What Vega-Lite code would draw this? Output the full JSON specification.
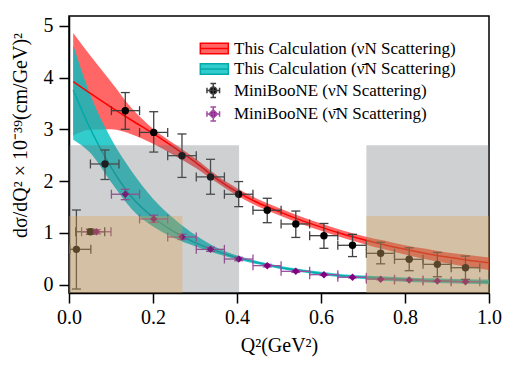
{
  "$schema": "https://vega.github.io/schema/vega-lite/v6.json",
  "width": 420,
  "height": 277,
  "autosize": {"type": "none"},
  "padding": {"left": 69, "top": 16, "right": 29, "bottom": 78},
  "background": "white",
  "datasets": {
    "curves": [
      {"s":"nu","x":0.01,"y":3.92,"lo":2.88,"hi":4.86},
      {"s":"nu","x":0.05,"y":3.70,"lo":2.99,"hi":4.43},
      {"s":"nu","x":0.1,"y":3.43,"lo":3.0,"hi":3.92},
      {"s":"nu","x":0.15,"y":3.17,"lo":2.9,"hi":3.40},
      {"s":"nu","x":0.2,"y":2.92,"lo":2.72,"hi":3.01},
      {"s":"nu","x":0.25,"y":2.65,"lo":2.5,"hi":2.72},
      {"s":"nu","x":0.3,"y":2.37,"lo":2.26,"hi":2.44},
      {"s":"nu","x":0.35,"y":2.05,"lo":1.98,"hi":2.12},
      {"s":"nu","x":0.4,"y":1.79,"lo":1.72,"hi":1.86},
      {"s":"nu","x":0.45,"y":1.58,"lo":1.51,"hi":1.65},
      {"s":"nu","x":0.5,"y":1.41,"lo":1.34,"hi":1.48},
      {"s":"nu","x":0.55,"y":1.25,"lo":1.18,"hi":1.32},
      {"s":"nu","x":0.6,"y":1.11,"lo":1.04,"hi":1.18},
      {"s":"nu","x":0.65,"y":0.98,"lo":0.91,"hi":1.05},
      {"s":"nu","x":0.7,"y":0.87,"lo":0.79,"hi":0.94},
      {"s":"nu","x":0.75,"y":0.77,"lo":0.68,"hi":0.85},
      {"s":"nu","x":0.8,"y":0.68,"lo":0.58,"hi":0.76},
      {"s":"nu","x":0.85,"y":0.60,"lo":0.49,"hi":0.69},
      {"s":"nu","x":0.9,"y":0.53,"lo":0.41,"hi":0.62},
      {"s":"nu","x":0.95,"y":0.47,"lo":0.34,"hi":0.57},
      {"s":"nu","x":1.0,"y":0.42,"lo":0.28,"hi":0.52},
      {"s":"nb","x":0.01,"y":3.76,"lo":2.80,"hi":4.63},
      {"s":"nb","x":0.05,"y":3.02,"lo":2.55,"hi":3.68},
      {"s":"nb","x":0.1,"y":2.27,"lo":1.98,"hi":2.82},
      {"s":"nb","x":0.15,"y":1.68,"lo":1.45,"hi":2.18},
      {"s":"nb","x":0.2,"y":1.30,"lo":1.12,"hi":1.66},
      {"s":"nb","x":0.25,"y":1.02,"lo":0.90,"hi":1.27},
      {"s":"nb","x":0.3,"y":0.81,"lo":0.74,"hi":0.96},
      {"s":"nb","x":0.35,"y":0.65,"lo":0.60,"hi":0.72},
      {"s":"nb","x":0.4,"y":0.52,"lo":0.485,"hi":0.56},
      {"s":"nb","x":0.45,"y":0.42,"lo":0.39,"hi":0.45},
      {"s":"nb","x":0.5,"y":0.335,"lo":0.305,"hi":0.365},
      {"s":"nb","x":0.55,"y":0.27,"lo":0.24,"hi":0.30},
      {"s":"nb","x":0.6,"y":0.215,"lo":0.185,"hi":0.245},
      {"s":"nb","x":0.65,"y":0.17,"lo":0.14,"hi":0.20},
      {"s":"nb","x":0.7,"y":0.14,"lo":0.105,"hi":0.175},
      {"s":"nb","x":0.75,"y":0.115,"lo":0.075,"hi":0.155},
      {"s":"nb","x":0.8,"y":0.095,"lo":0.055,"hi":0.135},
      {"s":"nb","x":0.85,"y":0.08,"lo":0.04,"hi":0.12},
      {"s":"nb","x":0.9,"y":0.067,"lo":0.025,"hi":0.11},
      {"s":"nb","x":0.95,"y":0.057,"lo":0.015,"hi":0.10},
      {"s":"nb","x":1.0,"y":0.05,"lo":0.005,"hi":0.095}
    ],
    "obs": [
      {"s":"MiniBooNE (νN Scattering)","x":0.0176,"y":0.68,"xl":0.002,"xh":0.052,"yl":-0.087,"yh":1.44},
      {"s":"MiniBooNE (νN Scattering)","x":0.051,"y":1.02,"xl":0.016,"xh":0.085,"yl":0.97,"yh":1.07},
      {"s":"MiniBooNE (νN Scattering)","x":0.0857,"y":2.33,"xl":0.051,"xh":0.119,"yl":2.03,"yh":2.6},
      {"s":"MiniBooNE (νN Scattering)","x":0.134,"y":3.36,"xl":0.101,"xh":0.168,"yl":3.0,"yh":3.71},
      {"s":"MiniBooNE (νN Scattering)","x":0.2017,"y":2.94,"xl":0.168,"xh":0.235,"yl":2.56,"yh":3.34},
      {"s":"MiniBooNE (νN Scattering)","x":0.269,"y":2.49,"xl":0.235,"xh":0.303,"yl":2.07,"yh":2.91},
      {"s":"MiniBooNE (νN Scattering)","x":0.337,"y":2.08,"xl":0.303,"xh":0.37,"yl":1.745,"yh":2.42},
      {"s":"MiniBooNE (νN Scattering)","x":0.404,"y":1.745,"xl":0.37,"xh":0.438,"yl":1.505,"yh":1.99},
      {"s":"MiniBooNE (νN Scattering)","x":0.472,"y":1.435,"xl":0.438,"xh":0.505,"yl":1.195,"yh":1.667},
      {"s":"MiniBooNE (νN Scattering)","x":0.54,"y":1.17,"xl":0.505,"xh":0.573,"yl":0.91,"yh":1.42},
      {"s":"MiniBooNE (νN Scattering)","x":0.607,"y":0.944,"xl":0.573,"xh":0.64,"yl":0.70,"yh":1.18},
      {"s":"MiniBooNE (νN Scattering)","x":0.675,"y":0.758,"xl":0.64,"xh":0.708,"yl":0.54,"yh":0.97},
      {"s":"MiniBooNE (νN Scattering)","x":0.742,"y":0.603,"xl":0.708,"xh":0.775,"yl":0.40,"yh":0.816},
      {"s":"MiniBooNE (νN Scattering)","x":0.81,"y":0.487,"xl":0.775,"xh":0.843,"yl":0.267,"yh":0.71},
      {"s":"MiniBooNE (νN Scattering)","x":0.877,"y":0.39,"xl":0.843,"xh":0.91,"yl":0.15,"yh":0.62},
      {"s":"MiniBooNE (νN Scattering)","x":0.944,"y":0.325,"xl":0.91,"xh":0.978,"yl":0.10,"yh":0.55},
      {"s":"MiniBooNE (ν̄N Scattering)","x":0.065,"y":1.02,"xl":0.03,"xh":0.1,"yl":0.98,"yh":1.06},
      {"s":"MiniBooNE (ν̄N Scattering)","x":0.134,"y":1.745,"xl":0.101,"xh":0.168,"yl":1.64,"yh":1.84},
      {"s":"MiniBooNE (ν̄N Scattering)","x":0.2017,"y":1.267,"xl":0.168,"xh":0.235,"yl":1.2,"yh":1.34},
      {"s":"MiniBooNE (ν̄N Scattering)","x":0.269,"y":0.919,"xl":0.235,"xh":0.303,"yl":0.87,"yh":0.97},
      {"s":"MiniBooNE (ν̄N Scattering)","x":0.337,"y":0.68,"xl":0.303,"xh":0.37,"yl":0.64,"yh":0.72},
      {"s":"MiniBooNE (ν̄N Scattering)","x":0.404,"y":0.493,"xl":0.37,"xh":0.438,"yl":0.46,"yh":0.525},
      {"s":"MiniBooNE (ν̄N Scattering)","x":0.472,"y":0.364,"xl":0.438,"xh":0.505,"yl":0.34,"yh":0.39},
      {"s":"MiniBooNE (ν̄N Scattering)","x":0.54,"y":0.255,"xl":0.505,"xh":0.573,"yl":0.235,"yh":0.275},
      {"s":"MiniBooNE (ν̄N Scattering)","x":0.607,"y":0.19,"xl":0.573,"xh":0.64,"yl":0.175,"yh":0.205},
      {"s":"MiniBooNE (ν̄N Scattering)","x":0.675,"y":0.14,"xl":0.64,"xh":0.708,"yl":0.128,"yh":0.152},
      {"s":"MiniBooNE (ν̄N Scattering)","x":0.742,"y":0.103,"xl":0.708,"xh":0.775,"yl":0.093,"yh":0.113},
      {"s":"MiniBooNE (ν̄N Scattering)","x":0.81,"y":0.087,"xl":0.775,"xh":0.843,"yl":0.078,"yh":0.096},
      {"s":"MiniBooNE (ν̄N Scattering)","x":0.877,"y":0.068,"xl":0.843,"xh":0.91,"yl":0.06,"yh":0.076},
      {"s":"MiniBooNE (ν̄N Scattering)","x":0.944,"y":0.054,"xl":0.91,"xh":0.978,"yl":0.047,"yh":0.061}
    ],
    "regions": [
      {"k":"gray","x":0,"x2":0.405,"y":-0.5,"y2":2.69},
      {"k":"gray","x":0.708,"x2":1.0,"y":-0.5,"y2":2.69},
      {"k":"tan","x":0,"x2":0.27,"y":-0.5,"y2":1.325},
      {"k":"tan","x":0.708,"x2":1.0,"y":-0.5,"y2":1.325}
    ]
  },
  "layer": [
    {
      "data": {"name": "curves"},
      "transform": [{"filter": "datum.s == 'nu'"}],
      "mark": {"type": "area", "color": "#ff0000", "opacity": 0.6, "interpolate": "monotone", "clip": true},
      "encoding": {
        "x": {"field": "x", "type": "quantitative", "scale": {"domain": [0, 1], "nice": false, "zero": false},
              "axis": {"values": [0, 0.2, 0.4, 0.6, 0.8, 1.0], "format": ".1f", "title": "Q²(GeV²)", "titleY": 52, "titleBaseline": "middle", "labelPadding": 4}},
        "y": {"field": "lo", "type": "quantitative", "scale": {"domain": [-0.164, 5.19], "nice": false, "zero": false},
              "axis": {"values": [0, 1, 2, 3, 4, 5], "format": "d", "title": "dσ/dQ² × 10⁻³⁹(cm/GeV)²", "titleX": -49, "titleY": 119, "titleBaseline": "middle", "titleAlign": "center", "labelPadding": 6}},
        "y2": {"field": "hi"}
      }
    },
    {
      "data": {"name": "curves"},
      "transform": [{"filter": "datum.s == 'nb'"}],
      "mark": {"type": "area", "color": "#00bfbf", "opacity": 0.8, "interpolate": "monotone", "clip": true},
      "encoding": {
        "x": {"field": "x", "type": "quantitative", "scale": {"domain": [0, 1], "nice": false, "zero": false}},
        "y": {"field": "lo", "type": "quantitative", "scale": {"domain": [-0.164, 5.19], "nice": false, "zero": false}},
        "y2": {"field": "hi"}
      }
    },
    {
      "data": {"name": "curves"},
      "transform": [{"filter": "datum.s == 'nu'"}],
      "mark": {"type": "line", "color": "#ff0000", "strokeWidth": 1.5, "interpolate": "monotone", "clip": true},
      "encoding": {
        "x": {"field": "x", "type": "quantitative", "scale": {"domain": [0, 1], "nice": false, "zero": false}},
        "y": {"field": "y", "type": "quantitative", "scale": {"domain": [-0.164, 5.19], "nice": false, "zero": false}}
      }
    },
    {
      "data": {"name": "curves"},
      "transform": [{"filter": "datum.s == 'nb'"}],
      "mark": {"type": "line", "color": "#00aaaa", "strokeWidth": 1.5, "interpolate": "monotone", "clip": true},
      "encoding": {
        "x": {"field": "x", "type": "quantitative", "scale": {"domain": [0, 1], "nice": false, "zero": false}},
        "y": {"field": "y", "type": "quantitative", "scale": {"domain": [-0.164, 5.19], "nice": false, "zero": false}}
      }
    },
    {
      "data": {"name": "obs"},
      "mark": {"type": "rule", "strokeWidth": 1.3, "clip": true},
      "encoding": {
        "x": {"field": "xl", "type": "quantitative", "scale": {"domain": [0, 1], "nice": false, "zero": false}},
        "x2": {"field": "xh"},
        "y": {"field": "y", "type": "quantitative", "scale": {"domain": [-0.164, 5.19], "nice": false, "zero": false}},
        "stroke": {"field": "s", "type": "nominal", "legend": null,
                   "scale": {"domain": ["MiniBooNE (νN Scattering)", "MiniBooNE (ν̄N Scattering)"], "range": ["#404040", "#a04ca0"]}}
      }
    },
    {
      "data": {"name": "obs"},
      "mark": {"type": "rule", "strokeWidth": 1.3, "clip": true},
      "encoding": {
        "x": {"field": "x", "type": "quantitative", "scale": {"domain": [0, 1], "nice": false, "zero": false}},
        "y": {"field": "yl", "type": "quantitative", "scale": {"domain": [-0.164, 5.19], "nice": false, "zero": false}},
        "y2": {"field": "yh"},
        "stroke": {"field": "s", "type": "nominal", "legend": null}
      }
    },
    {
      "data": {"name": "obs"},
      "mark": {"type": "tick", "orient": "horizontal", "size": 9, "thickness": 1.3, "opacity": 1, "clip": true},
      "encoding": {
        "x": {"field": "x", "type": "quantitative", "scale": {"domain": [0, 1], "nice": false, "zero": false}},
        "y": {"field": "yl", "type": "quantitative", "scale": {"domain": [-0.164, 5.19], "nice": false, "zero": false}},
        "color": {"field": "s", "type": "nominal", "legend": null,
                  "scale": {"domain": ["MiniBooNE (νN Scattering)", "MiniBooNE (ν̄N Scattering)"], "range": ["#404040", "#a04ca0"]}}
      }
    },
    {
      "data": {"name": "obs"},
      "mark": {"type": "tick", "orient": "horizontal", "size": 9, "thickness": 1.3, "opacity": 1, "clip": true},
      "encoding": {
        "x": {"field": "x", "type": "quantitative", "scale": {"domain": [0, 1], "nice": false, "zero": false}},
        "y": {"field": "yh", "type": "quantitative", "scale": {"domain": [-0.164, 5.19], "nice": false, "zero": false}},
        "color": {"field": "s", "type": "nominal", "legend": null}
      }
    },
    {
      "data": {"name": "obs"},
      "mark": {"type": "tick", "orient": "vertical", "size": 9, "thickness": 1.3, "opacity": 1, "clip": true},
      "encoding": {
        "x": {"field": "xl", "type": "quantitative", "scale": {"domain": [0, 1], "nice": false, "zero": false}},
        "y": {"field": "y", "type": "quantitative", "scale": {"domain": [-0.164, 5.19], "nice": false, "zero": false}},
        "color": {"field": "s", "type": "nominal", "legend": null}
      }
    },
    {
      "data": {"name": "obs"},
      "mark": {"type": "tick", "orient": "vertical", "size": 9, "thickness": 1.3, "opacity": 1, "clip": true},
      "encoding": {
        "x": {"field": "xh", "type": "quantitative", "scale": {"domain": [0, 1], "nice": false, "zero": false}},
        "y": {"field": "y", "type": "quantitative", "scale": {"domain": [-0.164, 5.19], "nice": false, "zero": false}},
        "color": {"field": "s", "type": "nominal", "legend": null}
      }
    },
    {
      "data": {"name": "obs"},
      "mark": {"type": "point", "filled": true, "opacity": 1, "size": 55, "clip": true},
      "encoding": {
        "x": {"field": "x", "type": "quantitative", "scale": {"domain": [0, 1], "nice": false, "zero": false}},
        "y": {"field": "y", "type": "quantitative", "scale": {"domain": [-0.164, 5.19], "nice": false, "zero": false}},
        "shape": {"field": "s", "type": "nominal", "legend": null,
                  "scale": {"domain": ["MiniBooNE (νN Scattering)", "MiniBooNE (ν̄N Scattering)"], "range": ["circle", "diamond"]}},
        "fill": {"field": "s", "type": "nominal",
                 "scale": {"domain": ["This Calculation (νN Scattering)", "This Calculation (ν̄N Scattering)", "MiniBooNE (νN Scattering)", "MiniBooNE (ν̄N Scattering)"], "range": ["#ff6666", "#33cccc", "#000000", "#800080"]},
                 "legend": {
                   "orient": "none", "legendX": 141, "legendY": 24, "title": null, "padding": 0,
                   "symbolSize": 196, "symbolStrokeWidth": 1.5, "symbolOpacity": 1,
                   "labelFont": "Liberation Serif", "labelFontSize": 17, "labelColor": "black", "labelOffset": 7, "labelLimit": 400,
                   "rowPadding": 2.5,
                   "encode": {
                     "symbols": {
                       "update": {
                         "shape": {"signal": "indexof(datum.value,'This')==0 ? 'M-2.6,-0.75H1.4V0.75H-2.6ZM-2.6,0H1.4' : (indexof(datum.value,'̄')>=0 ? 'M-1.65,0H0.15M-1.65,-0.4V0.4M0.15,-0.4V0.4M-0.75,-1V1M-1.15,-1H-0.35M-1.15,1H-0.35M-0.75,-0.6L-0.15,0L-0.75,0.6L-1.35,0Z' : 'M-1.65,0H0.15M-1.65,-0.4V0.4M0.15,-0.4V0.4M-0.75,-1V1M-1.15,-1H-0.35M-1.15,1H-0.35M-0.25,0A0.5,0.5 0 1,0 -1.25,0A0.5,0.5 0 1,0 -0.25,0Z')"},
                         "stroke": {"signal": "indexof(datum.value,'This')==0 ? (indexof(datum.value,'̄')>=0 ? '#00aaaa' : '#ff0000') : (indexof(datum.value,'̄')>=0 ? '#a04ca0' : '#404040')"},
                         "strokeWidth": {"value": 1.5},
                         "opacity": {"value": 1}
                       }
                     }
                   }
                 }}
      }
    },
    {
      "data": {"name": "regions"},
      "transform": [{"filter": "datum.k == 'gray'"}],
      "mark": {"type": "rect", "color": "#5f6368", "opacity": 0.3, "clip": true},
      "encoding": {
        "x": {"field": "x", "type": "quantitative", "scale": {"domain": [0, 1], "nice": false, "zero": false}},
        "x2": {"field": "x2"},
        "y": {"field": "y", "type": "quantitative", "scale": {"domain": [-0.164, 5.19], "nice": false, "zero": false}},
        "y2": {"field": "y2"}
      }
    },
    {
      "data": {"name": "regions"},
      "transform": [{"filter": "datum.k == 'tan'"}],
      "mark": {"type": "rect", "color": "#e0a040", "opacity": 0.3, "clip": true},
      "encoding": {
        "x": {"field": "x", "type": "quantitative", "scale": {"domain": [0, 1], "nice": false, "zero": false}},
        "x2": {"field": "x2"},
        "y": {"field": "y", "type": "quantitative", "scale": {"domain": [-0.164, 5.19], "nice": false, "zero": false}},
        "y2": {"field": "y2"}
      }
    }
  ],
  "config": {
    "view": {"stroke": "black", "strokeWidth": 1.5},
    "font": "Liberation Serif",
    "axis": {
      "grid": false, "labelFont": "Liberation Serif", "labelFontSize": 20, "labelColor": "black",
      "titleFont": "Liberation Serif", "titleFontSize": 20, "titleFontWeight": "normal", "titleColor": "black",
      "domainColor": "black", "domainWidth": 1.5, "tickColor": "black", "tickWidth": 1.5, "tickSize": 10,
      "labelFlush": false, "labelOverlap": false
    }
  }
}
